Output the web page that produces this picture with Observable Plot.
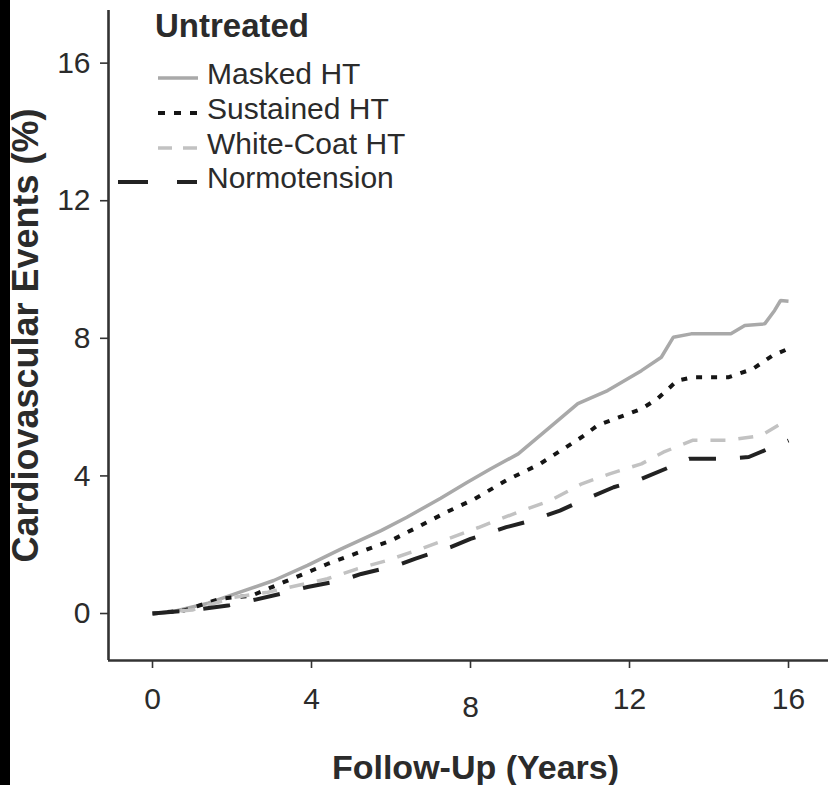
<!DOCTYPE html>
<html><head><meta charset="utf-8">
<script src="https://cdn.jsdelivr.net/npm/d3@7"></script>
<script src="https://cdn.jsdelivr.net/npm/@observablehq/plot@0.6"></script>
<style>
html,body{margin:0;padding:0;background:#fff;}
#wrap{position:relative;width:828px;height:785px;overflow:hidden;background:#fff;}
#strip{position:absolute;left:0;top:0;width:10px;height:785px;background:#000;}
#chart{position:absolute;left:10px;top:0;}
</style></head><body>
<div id="wrap"><div id="chart"></div><div id="strip"></div></div>
<script>
// ---- data ----
const seriesNames = ["Masked HT", "Sustained HT", "White-Coat HT", "Normotension"];
const legendTitle = "Untreated";
const xTicks = [0, 4, 8, 12, 16];
const yTicks = [0, 4, 8, 12, 16];
const xTitle = "Follow-Up (Years)";
const yTitle = "Cardiovascular Events (%)";

const maskedX = [0, 0.5, 1.4, 2.2, 3.05, 3.9, 4.75, 5.75, 6.4, 7.25, 7.9, 8.5, 9.2, 10.0, 10.7, 11.45, 12.3, 12.8, 13.1, 13.55, 14.55, 14.9, 15.4, 15.65, 15.8, 16.0];
const maskedY = [0, 0.05, 0.3, 0.62, 0.96, 1.4, 1.88, 2.41, 2.8, 3.35, 3.8, 4.2, 4.64, 5.42, 6.1, 6.48, 7.06, 7.45, 8.03, 8.13, 8.13, 8.37, 8.42, 8.81, 9.1, 9.08];

const sustainedX = [0, 0.8, 1.7, 2.5, 3.3, 4.4, 5.2, 6.0, 6.75, 7.4, 8.1, 8.9, 9.75, 10.8, 11.2, 12.3, 12.7, 13.2, 13.6, 14.5, 15.1, 15.6, 16.0];
const sustainedY = [0, 0.09, 0.43, 0.52, 0.91, 1.44, 1.78, 2.12, 2.56, 2.95, 3.33, 3.87, 4.35, 5.13, 5.47, 5.95, 6.24, 6.77, 6.87, 6.87, 7.11, 7.5, 7.7];

const whiteCoatX = [0, 1.0, 2.05, 2.9, 4.4, 5.15, 5.9, 6.75, 7.5, 8.2, 9.2, 10.0, 10.8, 11.5, 12.3, 12.85, 13.6, 14.5, 15.3, 15.8, 16.0];
const whiteCoatY = [0, 0.1, 0.47, 0.62, 1.01, 1.3, 1.54, 1.88, 2.2, 2.5, 2.95, 3.28, 3.77, 4.06, 4.35, 4.69, 5.04, 5.04, 5.17, 5.51, 5.61];

const normoX = [0, 1.0, 1.9, 2.5, 3.4, 3.9, 4.75, 5.25, 6.15, 6.6, 7.5, 8.0, 8.9, 9.4, 10.25, 10.8, 11.6, 12.2, 13.0, 13.5, 14.4, 15.0, 15.6, 16.0];
const normoY = [0, 0.1, 0.23, 0.38, 0.62, 0.77, 0.96, 1.15, 1.4, 1.59, 1.93, 2.17, 2.51, 2.66, 2.99, 3.28, 3.67, 3.87, 4.25, 4.5, 4.5, 4.55, 4.84, 5.03];

// ---- build table ----
const table = [];
[[maskedX, maskedY], [sustainedX, sustainedY], [whiteCoatX, whiteCoatY], [normoX, normoY]].forEach(([xs, ys], i) => {
  xs.forEach((x, j) => table.push({series: seriesNames[i], x, y: ys[j]}));
});

const styles = {
  "Masked HT":     {stroke: "#a9a9a9", strokeWidth: 3.5, dash: null,    legendDash: null},
  "Sustained HT":  {stroke: "#151515", strokeWidth: 4,   dash: "6,9",   legendDash: "7,9"},
  "White-Coat HT": {stroke: "#c2c2c2", strokeWidth: 3.5, dash: "15,13", legendDash: "14,11"},
  "Normotension":  {stroke: "#222222", strokeWidth: 4,   dash: "27,24", legendDash: "30,29"}
};

const xDomain = [-1.107, 17.006];
const yDomain = [-1.366, 17.53];
const font = "'Liberation Sans', Arial, Helvetica, sans-serif";
const ink = "#2b2b2b";

const lineMarks = seriesNames.map(s => Plot.line(table.filter(d => d.series === s), {
  x: "x", y: "y", stroke: styles[s].stroke, strokeWidth: styles[s].strokeWidth,
  strokeDasharray: styles[s].dash, strokeLinecap: "butt", strokeLinejoin: "miter"
}));

const plot = Plot.plot({
  width: 818, height: 785,
  marginLeft: 98, marginRight: 0, marginTop: 10, marginBottom: 125,
  x: {domain: xDomain},
  y: {domain: yDomain},
  style: {fontFamily: font, color: ink, background: "white", overflow: "visible"},
  marks: [
    Plot.axisX({ticks: xTicks.filter(t => t !== 8), tickSize: 8, tickPadding: 19, fontSize: 30, label: null, stroke: "#333", strokeWidth: 1.6, tickFormat: d => String(d)}),
    Plot.axisX({ticks: xTicks.filter(t => t === 8), tickSize: 8, tickPadding: 27, fontSize: 30, label: null, stroke: "#333", strokeWidth: 1.6, tickFormat: d => String(d)}),
    Plot.axisY({ticks: yTicks, tickSize: 8, tickPadding: 10, fontSize: 30, label: null, stroke: "#333", strokeWidth: 1.6, tickFormat: d => String(d)}),
    Plot.ruleX([xDomain[0]], {stroke: "#333", strokeWidth: 2.6}),
    Plot.ruleY([yDomain[0]], {stroke: "#333", strokeWidth: 2.6}),
    ...lineMarks,
    Plot.text([yTitle], {frameAnchor: "left", textAnchor: "middle", rotate: -90, dx: -82, fontSize: 36, fontWeight: "bold", fill: ink}),
    Plot.text([xTitle], {frameAnchor: "bottom", textAnchor: "middle", dx: 7, dy: 118, lineAnchor: "bottom", fontSize: 34, fontWeight: "bold", fill: ink})
  ]
});
document.getElementById("chart").appendChild(plot);

// ---- legend (layout in page pixels; svg is offset 10px) ----
const off = 10;
const svg = d3.select(plot);
const lg = svg.append("g").attr("font-family", font).attr("fill", ink).attr("text-anchor", "start");
lg.append("text").attr("x", 155 - off).attr("y", 37).attr("font-size", 33).attr("font-weight", "bold").attr("text-anchor", "start").text(legendTitle);
const baselines = [84, 119, 154, 188];
const sampleX = [[158, 198], [158, 203], [158, 197], [118, 197]];
seriesNames.forEach((s, i) => {
  const st = styles[s];
  const yb = baselines[i];
  lg.append("line")
    .attr("x1", sampleX[i][0] - off).attr("x2", sampleX[i][1] - off)
    .attr("y1", yb - 6).attr("y2", yb - 6)
    .attr("stroke", st.stroke).attr("stroke-width", st.strokeWidth)
    .attr("stroke-dasharray", st.legendDash);
  lg.append("text").attr("x", 207 - off).attr("y", yb).attr("font-size", 30).attr("text-anchor", "start").text(s);
});
</script>
</body></html>
